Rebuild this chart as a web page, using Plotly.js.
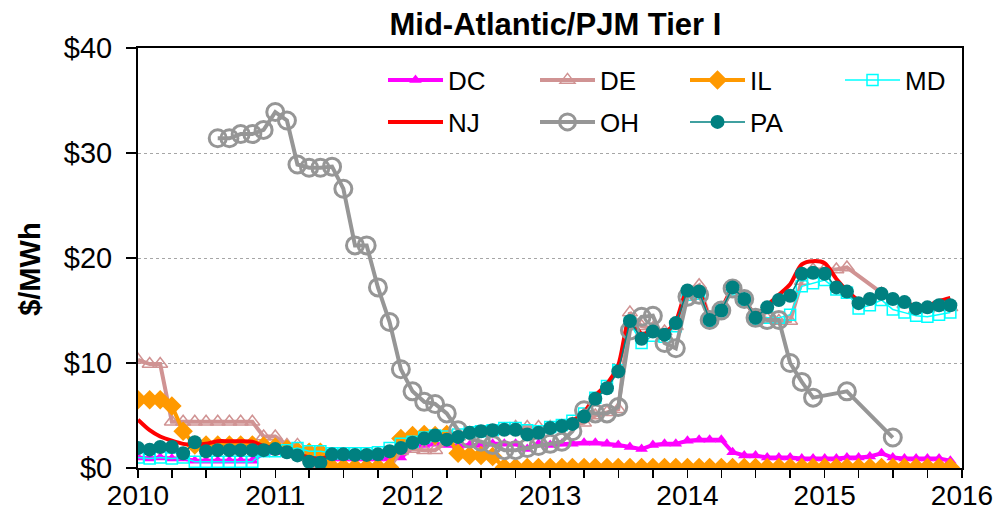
<!DOCTYPE html>
<html>
<head>
<meta charset="utf-8">
<script src="https://cdn.plot.ly/plotly-3.0.1.min.js"></script>
<style>
  body { margin: 0; background: white; }
  #chart { width: 999px; height: 513px; }
</style>
</head>
<body>
<div id="chart"></div>
<script>
// monthly points, Jan 2010 .. Dec 2015
let months = [];
for (let yr = 2010; yr <= 2015; yr++) {
    for (let m = 1; m <= 12; m++) {
        months.push(yr + "-" + String(m).padStart(2, "0") + "-01");
    }
}

let dc = [1.0, 0.9, 1.0, 0.9, 0.9, 0.7, 0.7, 0.7, 0.7, 0.7, 0.7, 1.4,
          1.5, 1.6, 1.9, 1.2, 0.9, 0.9, 0.9, 0.9, 0.9, 0.9, 0.9, 1.0,
          1.9, 2.2, 2.3, 2.2, 2.1, 2.2, 2.2, 2.3, 2.3, 2.3, 1.8, 2.3,
          2.2, 2.3, 2.3, 2.4, 2.4, 2.3, 2.2, 2.0, 1.8, 2.2, 2.3, 2.3,
          2.6, 2.7, 2.7, 2.7, 1.5, 1.2, 1.2, 1.0, 1.0, 1.0, 0.9, 0.9,
          0.9, 0.9, 1.0, 1.0, 1.1, 1.4, 1.0, 0.9, 0.9, 0.9, 0.9, 0.7];

let de = [10.3, 9.9, 9.9, 4.4, 4.4, 4.4, 4.4, 4.4, 4.4, 4.4, 4.4, 3.0,
          3.0, 2.2, 2.2, 1.0, 0.3, 0.05, 0.05, 0.05, 0.05, 0.05, 0.05, 1.6,
          1.8, 1.7, 1.7, 2.5, 3.0, 3.3, 3.4, 3.5, 3.6, 3.9, 3.9, 3.9,
          3.9, 4.0, 4.2, 4.3, 5.0, 5.3, 5.6, 14.8, 13.5, 13.3, 13.0, 13.5,
          16.7, 17.4, 14.3, 15.0, 17.2, 16.0, 14.5, 14.2, 14.0, 14.0, 17.8, 18.9,
          18.9, 18.9, 19.1, null, null, 16.6, 15.9, 15.6, 15.1, 15.2, 15.4, 15.3];

let il = [6.5, 6.5, 6.5, 5.9, 3.5, 2.2, 2.2, 2.2, 2.2, 2.2, 2.2, 2.1,
          2.0, 1.8, 1.6, 1.5, 1.5, 0.05, 0.05, 0.05, 0.05, 0.05, 0.05, 2.8,
          3.1, 3.2, 3.1, 3.2, 1.4, 1.2, 1.2, 1.1, 0.05, 0.05, 0.05, 0.05,
          0.05, 0.05, 0.05, 0.05, 0.05, 0.05, 0.05, 0.05, 0.05, 0.05, 0.05, 0.05,
          0.05, 0.05, 0.05, 0.05, 0.05, 0.05, 0.05, 0.05, 0.05, 0.05, 0.05, 0.05,
          0.05, 0.05, 0.05, 0.05, 0.05, 0.05, 0.05, 0.05, 0.05, 0.05, 0.05, 0.05];

let md = [1.0, 0.9, 1.0, 0.9, 1.0, 0.6, 0.6, 0.6, 0.6, 0.6, 0.6, 1.6,
          1.6, 1.7, 1.9, 1.6, 1.6, 1.4, 1.4, 1.4, 1.4, 1.5, 1.9, 2.3,
          2.5, 2.9, 3.1, 3.0, 3.2, 3.4, 3.5, 3.6, 3.8, 3.8, 3.6, 3.5,
          3.9, 4.1, 4.5, 5.2, 6.7, 7.8, 9.3, 13.8, 11.9, 12.6, 12.5, 13.5,
          16.5, 16.6, 14.0, 15.0, 17.0, 16.0, 14.2, 14.3, 14.3, 14.6, 17.3, 17.6,
          17.9, 17.0, 16.7, 15.2, 15.5, 16.0, 15.1, 14.8, 14.5, 14.4, 14.6, 14.8];

let nj = [4.6, 3.6, 3.0, 2.6, 2.3, 2.2, 2.3, 2.55, 2.55, 2.55, 2.5, 2.1,
          1.9, 1.6, 1.3, 1.0, 0.9, 1.2, 1.3, 1.3, 1.3, 1.4, 1.7, 2.0,
          2.5, 2.8, 3.0, 3.0, 3.1, 3.3, 3.5, 3.6, 3.7, 3.7, 3.5, 3.5,
          3.8, 4.1, 4.5, 5.3, 6.9, 8.0, 9.8, 14.2, 12.8, 13.0, 12.9, 14.0,
          16.9, 16.8, 14.4, 15.2, 17.0, 16.0, 14.6, 15.5, 16.5, 17.5, 19.4, 19.7,
          19.5, 18.0, 16.9, 16.0, 16.1, 16.5, 16.0, 15.8, 15.4, 15.5, 15.9, 16.2];

let oh = [null, null, null, null, null, null, null, 31.4, 31.4, 31.8, 31.8, 32.2,
          33.9, 33.1, 28.9, 28.6, 28.6, 28.7, 26.6, 21.2, 21.2, 17.2, 13.9, 9.4,
          7.3, 6.3, 6.1, 5.2, 3.6, 2.8, 2.5, 2.2, 1.7, 1.7, 1.9, 2.1,
          2.3, 2.5, 3.5, 5.5, 5.2, 5.2, 5.8, 13.1, 14.4, 14.5, 11.9, 11.4,
          16.3, 16.5, 14.1, 15.0, 17.1, 16.1, 14.3, 14.1, 14.1, 10.0, 8.2, 6.7,
          null, null, 7.3, null, null, null, 2.9, null, null, null, null, null];

let pa = [1.9, 1.75, 2.0, 2.0, 1.4, 2.45, 1.6, 1.7, 1.7, 1.7, 1.7, 1.7,
          1.8, 1.5, 1.2, 0.6, 0.5, 1.3, 1.3, 1.25, 1.25, 1.3, 1.6, 1.9,
          2.4, 2.8, 3.1, 2.7, 2.95, 3.35, 3.5, 3.6, 3.65, 3.65, 3.2, 3.35,
          3.8, 4.0, 4.2, 4.9, 6.6, 7.6, 9.2, 14.0, 12.3, 13.0, 12.7, 13.8,
          16.9, 16.8, 14.1, 15.0, 17.2, 16.1, 14.3, 15.3, 16.0, 16.4, 18.5, 18.6,
          18.5, 17.2, 16.8, 15.7, 16.1, 16.6, 16.1, 15.8, 15.2, 15.3, 15.5, 15.5];

let yTicks = [0, 10, 20, 30, 40];
let yTickText = ["$0", "$10", "$20", "$30", "$40"];

let fontFamily = "Arial, 'Liberation Sans', sans-serif";

let chart = document.getElementById("chart");

let traceDC = {
    type: "scatter", mode: "lines+markers", name: "DC",
    x: months, y: dc, legend: "legend",
    line: { color: "#ff00ff", width: 4 },
    marker: { symbol: "triangle-up", size: 11, color: "#ff00ff" }
};

let traceDE = {
    type: "scatter", mode: "lines+markers", name: "DE",
    x: months, y: de, connectgaps: true, legend: "legend2",
    line: { color: "#d09393", width: 4 },
    marker: { symbol: "triangle-up-open", size: 13, color: "#d09393", line: { width: 1.5 } }
};

let traceIL = {
    type: "scatter", mode: "lines+markers", name: "IL",
    x: months, y: il, legend: "legend3",
    line: { color: "#ff9900", width: 4 },
    marker: { symbol: "diamond", size: 15, color: "#ff9900" }
};

let traceMD = {
    type: "scatter", mode: "lines+markers", name: "MD",
    x: months, y: md, legend: "legend4",
    line: { color: "#00ffff", width: 1.5 },
    marker: { symbol: "square-open", size: 11, color: "#00ffff", line: { width: 1.5 } }
};

let traceNJ = {
    type: "scatter", mode: "lines", name: "NJ",
    x: months, y: nj, legend: "legend5",
    line: { color: "#ff0000", width: 4, shape: "spline", smoothing: 0.8 }
};

let traceOH = {
    type: "scatter", mode: "lines+markers", name: "OH",
    x: months, y: oh, connectgaps: true, legend: "legend6",
    line: { color: "#969696", width: 4 },
    marker: { symbol: "circle-open", size: 17, color: "#969696", line: { width: 3 } }
};

let tracePA = {
    type: "scatter", mode: "lines+markers", name: "PA",
    x: months, y: pa, legend: "legend7",
    line: { color: "#008080", width: 1.5 },
    marker: { symbol: "circle", size: 14, color: "#008080" }
};

let data = [traceDC, traceDE, traceIL, traceMD, traceNJ, traceOH, tracePA];

// one legend per entry so the 4 + 3 grid sits where the reference has it
function legendAt(px, py) {
    return {
        orientation: "h",
        xanchor: "left",
        yanchor: "middle",
        x: (px - 138) / 824,
        y: (468 - py) / 420,
        itemwidth: 55,
        bgcolor: "rgba(0,0,0,0)",
        font: { family: fontFamily, size: 26, color: "black" }
    };
}

let layout = {
    width: 999,
    height: 513,
    margin: { l: 138, r: 37, t: 48, b: 45 },
    paper_bgcolor: "white",
    plot_bgcolor: "white",
    font: { family: fontFamily, color: "black" },
    title: {
        text: "<b>Mid-Atlantic/PJM Tier I</b>",
        font: { family: fontFamily, size: 31, color: "black" },
        x: 0.556, xanchor: "center",
        y: 0.952, yanchor: "middle"
    },
    xaxis: {
        type: "date",
        range: ["2010-01-01", "2016-01-01"],
        tick0: "2010-01-01",
        dtick: "M12",
        tickformat: "%Y",
        ticks: "outside", ticklen: 8, tickwidth: 1.5, tickcolor: "black",
        ticklabelstandoff: -7,
        minor: { dtick: "M3", ticks: "outside", ticklen: 8, tickwidth: 1.5, tickcolor: "black", showgrid: false },
        showline: true, linecolor: "black", linewidth: 2, mirror: true,
        showgrid: false, zeroline: false,
        tickfont: { family: fontFamily, size: 28, color: "black" }
    },
    yaxis: {
        range: [0, 40],
        tickmode: "array",
        tickvals: yTicks,
        ticktext: yTickText,
        ticks: "outside", ticklen: 10, tickwidth: 1.5, tickcolor: "black",
        ticklabelstandoff: 8,
        showline: true, linecolor: "black", linewidth: 2, mirror: true,
        showgrid: true, gridcolor: "#a6a6a6", griddash: "dot", gridwidth: 1,
        zeroline: false,
        tickfont: { family: fontFamily, size: 29, color: "black" }
    },
    legend: legendAt(383, 80),
    legend2: legendAt(535, 80),
    legend3: legendAt(685, 80),
    legend4: legendAt(840, 80),
    legend5: legendAt(383, 122),
    legend6: legendAt(535, 122),
    legend7: legendAt(685, 122),
    annotations: [{
        text: "<b>$/MWh</b>",
        textangle: -90,
        xref: "paper", yref: "paper",
        x: -0.131, y: 0.472,
        xanchor: "center", yanchor: "middle",
        showarrow: false,
        font: { family: fontFamily, size: 29, color: "black" }
    }],
    showlegend: true
};

Plotly.newPlot(chart, data, layout, { staticPlot: true });
</script>
</body>
</html>
